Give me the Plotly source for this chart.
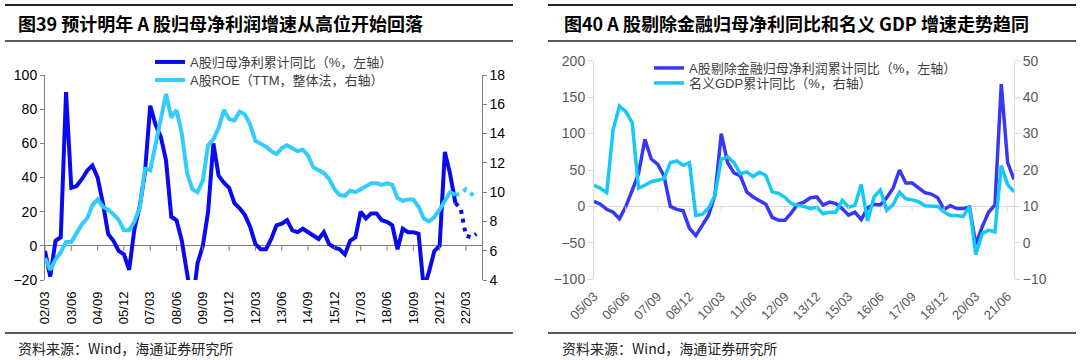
import plotly.graph_objects as go

# ---------------- data: left panel (quarterly, 02/03 .. 22/12) ----------------
q_left = [f"{y:02d}/{m}" for y in range(2, 23) for m in ("03", "06", "09", "12")]
left_ticks = ["02/03", "03/06", "04/09", "05/12", "07/03", "08/06", "09/09", "10/12",
              "12/03", "13/06", "14/09", "15/12", "17/03", "18/06", "19/09", "20/12", "22/03"]

# A股归母净利累计同比 (%), 02/03 .. 21/09
profit_a = [-3, -18, 3, 5, 90, 34, 35, 39, 44, 47,
            40, 25, 7, 3, -3, -5, -14, 10, 23, 43,
            82, 71, 64, 50, 17, 15, 3, -18, -35, -10,
            0, 20, 60, 41, 37, 34, 25, 22, 18, 11,
            1, -2, -2, 4, 12, 13, 15, 9, 8, 10,
            8, 6, 4, 8, 1, -1, -2, -5, 3, 5,
            20, 16, 19, 19, 15, 14, 12, -2, 10, 8,
            8, 7, -25, -15, -3, 0, 55, 42, 25]
# forecast 21/09 .. 22/09
profit_a_fc = [25, 22, 6, 5, 7]

# A股ROE (TTM, %), 02/03 .. 21/09
roe_a = [5.5, 4.7, 5.4, 5.9, 6.6, 6.6, 7.2, 7.8, 8.2, 9.1,
         9.5, 9.0, 8.8, 8.5, 8.1, 7.4, 7.4, 8.0, 8.9, 11.6,
         11.5, 13.3, 14.8, 16.7, 15.1, 15.6, 14.0, 11.3, 10.2, 10.0,
         10.8, 13.2, 13.6, 14.4, 15.6, 15.0, 14.9, 15.5, 15.3, 14.6,
         13.5, 13.3, 13.1, 12.8, 12.6, 13.0, 13.2, 13.0, 12.8, 12.9,
         12.5, 11.7, 11.5, 11.3, 10.9, 10.2, 9.8, 9.75, 10.1, 10.0,
         10.2, 10.4, 10.6, 10.6, 10.5, 10.6, 10.5, 9.6, 9.4, 9.5,
         9.5, 9.0, 8.2, 8.0, 8.3, 8.8, 9.4, 10.0, 9.8]
roe_a_fc = [9.8, 9.9, 10.2, 9.9, 9.6]

# ---------------- data: right panel (quarterly, 05/03 .. 21/09) ----------------
q_right = [f"{y:02d}/{m}" for y in range(5, 22) for m in ("03", "06", "09", "12")][:67]
right_ticks = ["05/03", "06/06", "07/09", "08/12", "10/03", "11/06", "12/09",
               "13/12", "15/03", "16/06", "17/09", "18/12", "20/03", "21/06"]

profit_ex_fin = [7, 3, -4, -8, -17, 0, 22, 45, 92, 65,
                 58, 42, 0, -4, -6, -30, -40, -25, -12, 15,
                 100, 60, 46, 42, 20, 13, 8, 3, -15, -19,
                 -19, -9, 3, 6, 12, 13, 2, 6, 4, -3,
                 -12, -8, -18, -2, 3, 2, 12, 25, 50, 32,
                 32, 25, 19, 17, 12, -4, 1, -3, -3, -1,
                 -52, -28, -8, 2, 168, 60, 37]
gdp_nominal = [15.8, 15, 13.8, 31, 37.5, 36, 33, 15, 15.8, 16.8,
               17.2, 17.6, 22, 22.5, 21.3, 22, 7.5, 7.8, 9.5, 13,
               23, 23.6, 22, 19, 19.5, 18.2, 19.4, 18.5, 14, 13.6,
               12.5, 10.8, 10.3, 10, 9.4, 9.8, 8, 8.4, 8.4, 11.7,
               9.8, 10.3, 16, 6, 12.6, 14.5, 9, 10.5, 13.9, 12.1,
               11.8, 11.3, 10.2, 10.1, 10, 8.5, 7.5, 7.5, 7.2, 10,
               -3.2, 2.5, 3.5, 3, 21.2, 16, 14]

BLUE_L = "#0A0AF0"
CYAN_L = "#33CCFF"
BLUE_R = "#3838F4"
CYAN_R = "#14C8F8"
AX_L = "#7F7F7F"
AX_R = "#D9D9D9"
FONT = "Liberation Sans, Noto Sans CJK SC, sans-serif"
CJK = "Noto Sans CJK SC, sans-serif"

n_act = len(profit_a)
fig = go.Figure()
fig.add_trace(go.Scatter(x=q_left[:n_act], y=profit_a, mode="lines",
                         line=dict(color=BLUE_L, width=4),
                         name="A股归母净利累计同比（%，左轴）",
                         xaxis="x", yaxis="y", legend="legend"))
fig.add_trace(go.Scatter(x=q_left[n_act - 1:n_act - 1 + len(profit_a_fc)], y=profit_a_fc,
                         mode="lines", line=dict(color=BLUE_L, width=4, dash="4px,5px"),
                         showlegend=False, xaxis="x", yaxis="y"))
fig.add_trace(go.Scatter(x=q_left[:n_act], y=roe_a, mode="lines",
                         line=dict(color=CYAN_L, width=4),
                         name="A股ROE（TTM，整体法，右轴）",
                         xaxis="x", yaxis="y2", legend="legend2"))
fig.add_trace(go.Scatter(x=q_left[n_act - 1:n_act - 1 + len(roe_a_fc)], y=roe_a_fc,
                         mode="lines", line=dict(color=CYAN_L, width=4, dash="4px,5px"),
                         showlegend=False, xaxis="x", yaxis="y2"))

fig.add_trace(go.Scatter(x=q_right, y=profit_ex_fin, mode="lines",
                         line=dict(color=BLUE_R, width=3.5),
                         name="A股剔除金融归母净利润累计同比（%，左轴）",
                         xaxis="x2", yaxis="y3", legend="legend3"))
fig.add_trace(go.Scatter(x=q_right, y=gdp_nominal, mode="lines",
                         line=dict(color=CYAN_R, width=3.5),
                         name="名义GDP累计同比（%，右轴）",
                         xaxis="x2", yaxis="y4", legend="legend4"))

W, H = 1080, 360
def px_x(v): return v / W
def px_y(v): return 1 - v / H

shapes = []
# x-axis tick marks at the zero line
for t in left_ticks:
    shapes.append(dict(type="line", xref="x", yref="y", x0=q_left.index(t), x1=q_left.index(t),
                       ysizemode="pixel", yanchor=0, y0=0, y1=-5,
                       line=dict(color=AX_L, width=1)))
for t in right_ticks:
    shapes.append(dict(type="line", xref="x2", yref="y3", x0=q_right.index(t), x1=q_right.index(t),
                       ysizemode="pixel", yanchor=0, y0=0, y1=-5,
                       line=dict(color=AX_R, width=1)))
# header / footer rules
for (xa, xb) in ((5, 513), (548, 1076)):
    shapes.append(dict(type="line", xref="paper", yref="paper", x0=px_x(xa), x1=px_x(xb),
                       y0=px_y(5), y1=px_y(5), line=dict(color="#222222", width=2)))
    shapes.append(dict(type="line", xref="paper", yref="paper", x0=px_x(xa), x1=px_x(xb),
                       y0=px_y(41), y1=px_y(41), line=dict(color="#222222", width=1.5)))
    shapes.append(dict(type="line", xref="paper", yref="paper", x0=px_x(xa), x1=px_x(xb),
                       y0=px_y(333), y1=px_y(333), line=dict(color="#222222", width=1.5)))

annotations = [
    dict(text="<b>图39 预计明年 A 股归母净利润增速从高位开始回落</b>", x=px_x(16), y=px_y(23),
         xref="paper", yref="paper", xanchor="left", yanchor="middle", showarrow=False,
         font=dict(family=CJK, size=18, color="#000000")),
    dict(text="<b>图40 A 股剔除金融归母净利同比和名义 GDP 增速走势趋同</b>", x=px_x(562), y=px_y(23),
         xref="paper", yref="paper", xanchor="left", yanchor="middle", showarrow=False,
         font=dict(family=CJK, size=18, color="#000000")),
    dict(text="资料来源：Wind，海通证券研究所", x=px_x(16), y=px_y(348),
         xref="paper", yref="paper", xanchor="left", yanchor="middle", showarrow=False,
         font=dict(family=CJK, size=14, color="#222222")),
    dict(text="资料来源：Wind，海通证券研究所", x=px_x(560), y=px_y(348),
         xref="paper", yref="paper", xanchor="left", yanchor="middle", showarrow=False,
         font=dict(family=CJK, size=14, color="#222222")),
]

common_ax = dict(automargin=False, showgrid=False)

def leg(xpx, ypx):
    return dict(x=px_x(xpx), y=px_y(ypx), xanchor="left", yanchor="middle",
                bgcolor="rgba(0,0,0,0)", font=dict(family=FONT, size=13, color="#404040"),
                tracegroupgap=0)

fig.update_layout(
    width=W, height=H, margin=dict(l=0, r=0, t=0, b=0, autoexpand=False),
    paper_bgcolor="white", plot_bgcolor="white",
    font=dict(family=FONT, size=13, color="#000000"),
    shapes=shapes, annotations=annotations,
    xaxis=dict(domain=[px_x(45), px_x(481.7)], anchor="y", type="category",
               categoryorder="array", categoryarray=q_left, range=[0, len(q_left) - 1],
               tickmode="array", tickvals=left_ticks, ticktext=left_ticks, tickangle=-90,
               tickfont=dict(size=13, color="#000000"), ticks="", showline=False,
               zeroline=False, ticklabelstandoff=8, **common_ax),
    yaxis=dict(domain=[px_y(280), px_y(75)], anchor="x", range=[-20, 100], dtick=20,
               showline=True, linecolor=AX_L, ticks="outside", ticklen=4, tickcolor=AX_L,
               zeroline=True, zerolinecolor=AX_L, zerolinewidth=1,
               tickfont=dict(size=14, color="#000000"), **common_ax),
    yaxis2=dict(overlaying="y", side="right", anchor="x", range=[4, 18], dtick=2,
                showline=True, linecolor=AX_L, ticks="outside", ticklen=4, tickcolor=AX_L,
                zeroline=False, tickfont=dict(size=14, color="#000000"), **common_ax),
    xaxis2=dict(domain=[px_x(594), px_x(1014)], anchor="y3", type="category",
                categoryorder="array", categoryarray=q_right, range=[0, len(q_right) - 1],
                tickmode="array", tickvals=right_ticks, ticktext=right_ticks, tickangle=-45,
                tickfont=dict(size=13, color="#595959"), ticks="", showline=False,
                zeroline=False, ticklabelstandoff=6, **common_ax),
    yaxis3=dict(domain=[px_y(279.3), px_y(60.7)], anchor="x2", range=[-100, 200], dtick=50,
                showline=True, linecolor=AX_R, ticks="outside", ticklen=5, tickcolor=AX_R,
                zeroline=True, zerolinecolor=AX_R, zerolinewidth=1,
                tickfont=dict(size=14, color="#595959"), **common_ax),
    yaxis4=dict(overlaying="y3", side="right", anchor="x2", range=[-10, 50], dtick=10,
                showline=True, linecolor=AX_R, ticks="outside", ticklen=5, tickcolor=AX_R,
                zeroline=False, tickfont=dict(size=14, color="#595959"), **common_ax),
    legend=leg(150, 62),
    legend2=leg(150, 80),
    legend3=leg(649, 68),
    legend4=leg(649, 83),
)

fig.write_html("out.html", config={"displayModeBar": False},
               post_script="document.body.style.margin='0';")
